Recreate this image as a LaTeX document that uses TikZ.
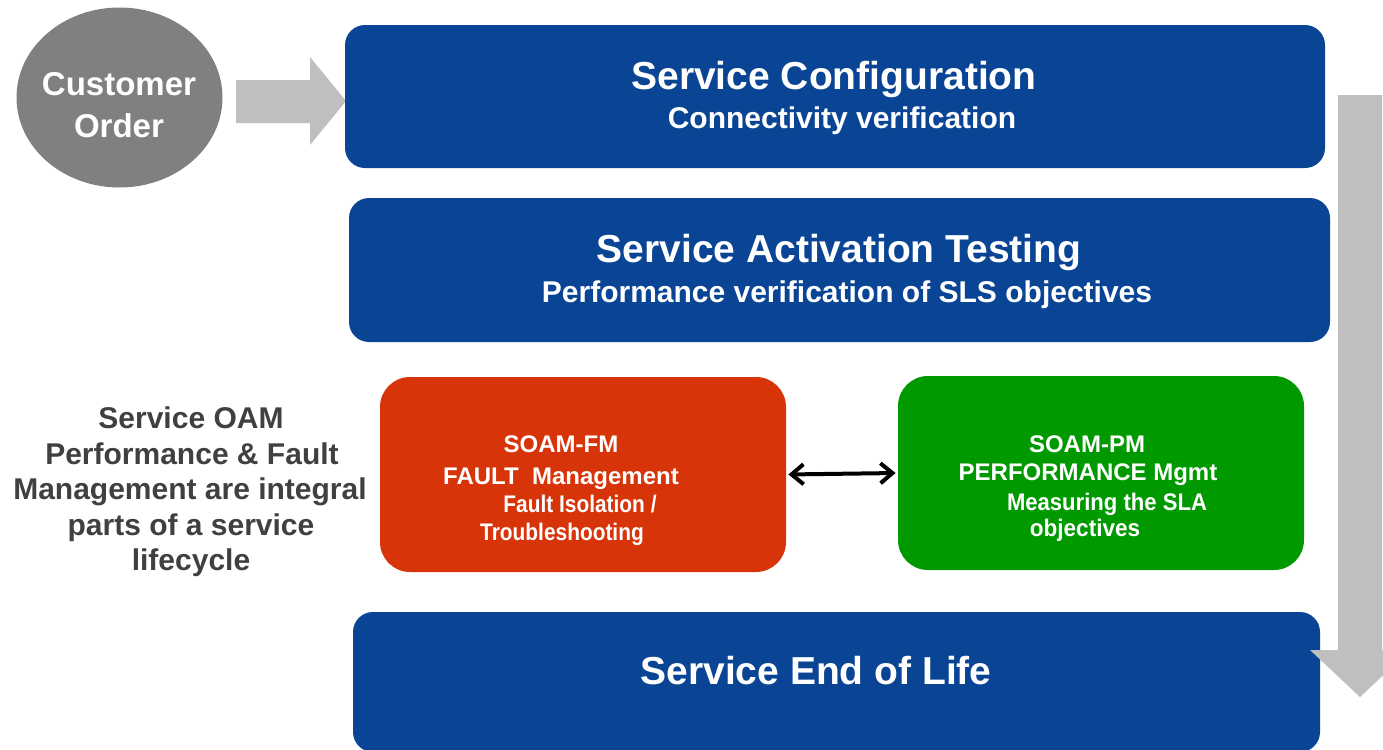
\documentclass[tikz,border=0pt]{standalone}
\usepackage{fontspec}
\setmainfont{Liberation Sans}
\usepackage{graphicx}
\usetikzlibrary{shapes.geometric,arrows.meta}
\definecolor{sblue}{HTML}{0A4595}
\definecolor{sred}{HTML}{D8340A}
\definecolor{sgreen}{HTML}{009900}
\definecolor{cgray}{HTML}{808080}
\definecolor{agray}{HTML}{BFBFBF}
\definecolor{tgray}{HTML}{404040}
\tikzset{
  box/.style={draw=none, fill=#1, rounded corners=10pt, inner sep=0pt, rectangle},
  softbox/.style={draw=none, fill=#1, rounded corners=15pt, inner sep=0pt, rectangle},
  big/.style={text=white, font=\bfseries\fontsize{19.5}{23}\selectfont, anchor=base, inner sep=0pt},
  sub/.style={text=white, font=\bfseries\fontsize{15}{18}\selectfont, anchor=base, inner sep=0pt},
  small/.style={text=white, font=\bfseries\fontsize{12}{14}\selectfont, anchor=base, inner sep=0pt},
  cust/.style={text=white, font=\bfseries\fontsize{16.5}{20}\selectfont, anchor=base, inner sep=0pt},
  side/.style={text=tgray, font=\bfseries\fontsize{15}{18}\selectfont, anchor=base, inner sep=0pt},
  blockarrow/.style={fill=agray, draw=none},
  dbl/.style={{Straight Barb[length=6pt,width=10pt]}-{Straight Barb[length=6pt,width=10pt]}, line width=2pt, black}
}
\begin{document}
\begin{tikzpicture}[x=0.5pt,y=-0.5pt]
\clip (0,0) rectangle (1383,750);
\fill[white] (0,0) rectangle (1383,750);

% customer order
\node[ellipse, fill=cgray, minimum width=103pt, minimum height=90pt, inner sep=0pt] (cust) at (119.5,97.5) {};
\node[cust] (cust1) at (119,95) {Customer};
\node[cust] (cust2) at (119,137) {Order};

% arrow into config
\fill[blockarrow] (236,80) -- (310,80) -- (310,57) -- (346,101) -- (310,145) -- (310,123) -- (236,123) -- cycle;

% blue boxes
\node[box=sblue, minimum width=490pt, minimum height=71.5pt] (conf) at (835,96.5) {};
\node[big] (conft) at (834,89) {Service Configuration};
\node[sub] (confs) at (842,128) {Connectivity verification};

\node[box=sblue, minimum width=490.5pt, minimum height=72pt] (sat) at (839.5,270) {};
\node[big] (satt) at (839,262) {Service Activation Testing};
\node[sub] (sats) at (847,302) {Performance verification of SLS objectives};

\node[box=sblue, minimum width=483.5pt, minimum height=70pt] (eol) at (836.5,682) {};
\node[big] (eolt) at (816,684) {Service End of Life};

% red box
\node[softbox=sred, minimum width=203pt, minimum height=97.5pt] (fm) at (583,474.5) {};
\node[small] (fm1) at (561,452) {SOAM-FM};
\node[small] (fm2) at (561,484) {FAULT\ \ Management};
\node[small] (fm3) at (580,512) {\scalebox{0.87}[1]{Fault Isolation /}};
\node[small] (fm4) at (562,540) {\scalebox{0.87}[1]{Troubleshooting}};

% green box
\node[softbox=sgreen, minimum width=203pt, minimum height=97pt] (pm) at (1101,473) {};
\node[small] (pm1) at (1087,452) {SOAM-PM};
\node[small] (pm2) at (1088,480) {PERFORMANCE Mgmt};
\node[small] (pm3) at (1107,510) {\scalebox{0.92}[1]{Measuring the SLA}};
\node[small] (pm4) at (1085,536) {\scalebox{0.94}[1]{objectives}};

\draw[dbl, shorten <=1pt, shorten >=1pt] (fm.east) -- (pm.west);

% side text
\node[side] (s1) at (191,428) {Service OAM};
\node[side] (s2) at (192,464) {Performance \& Fault};
\node[side] (s3) at (190,499) {Management are integral};
\node[side] (s4) at (191,535) {parts of a service};
\node[side] (s5) at (191,570) {lifecycle};

% lifecycle arrow
\fill[blockarrow] (1338,95) -- (1382,95) -- (1382,650) -- (1410,650) -- (1360,697) -- (1310,650) -- (1338,650) -- cycle;
\end{tikzpicture}
\end{document}
